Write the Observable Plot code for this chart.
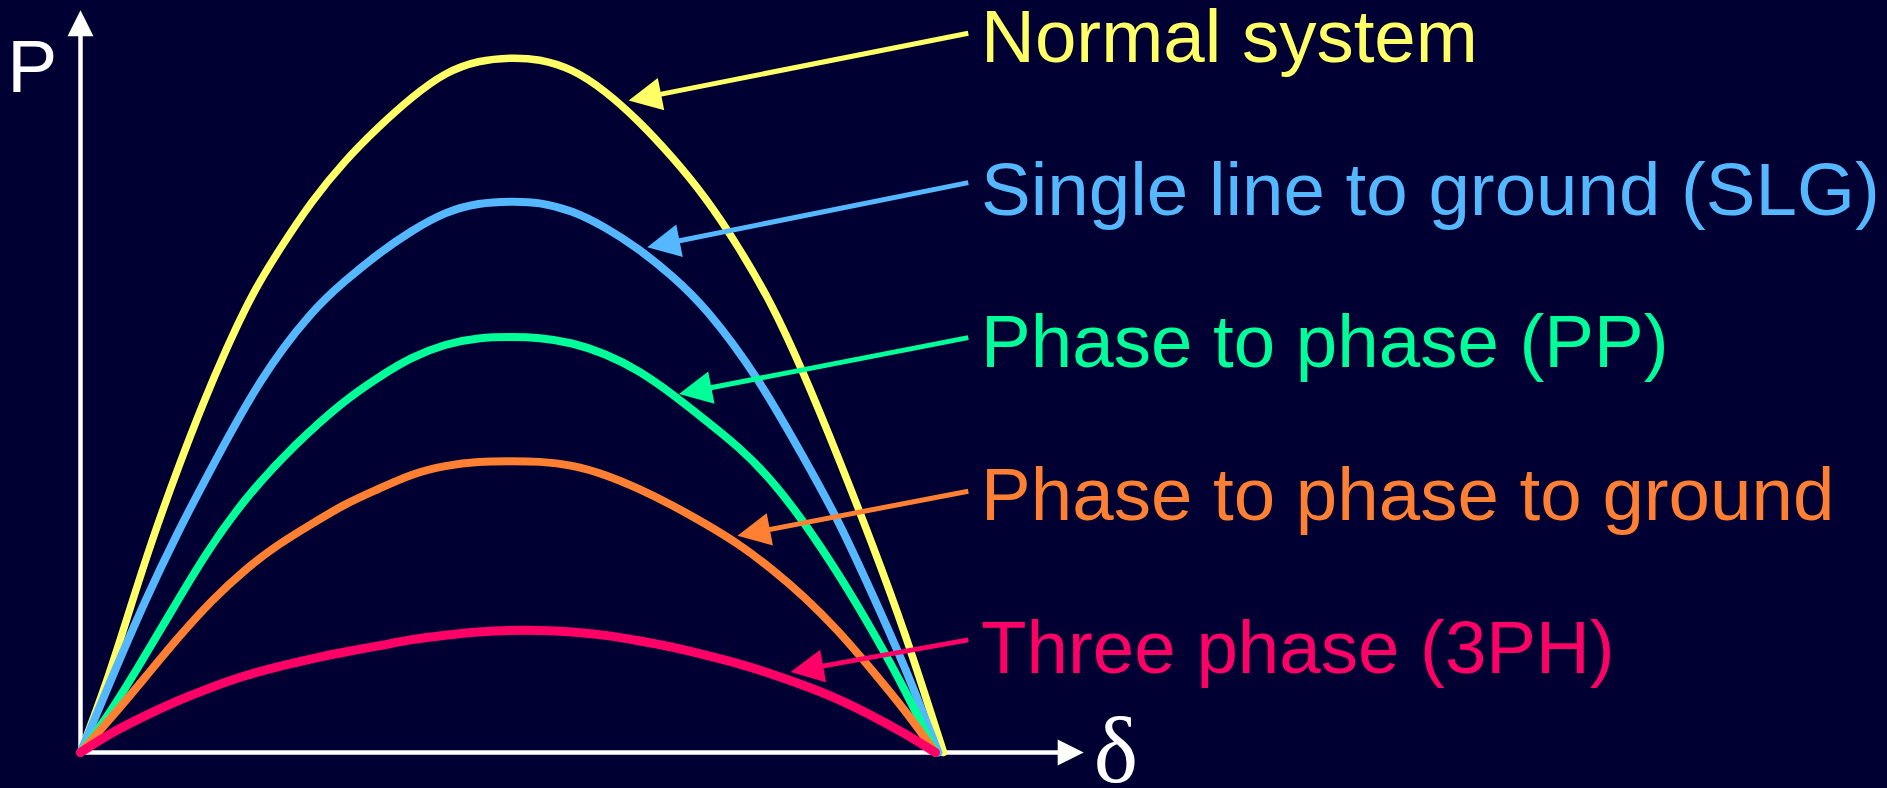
<!DOCTYPE html>
<html>
<head>
<meta charset="utf-8">
<script src="https://cdn.jsdelivr.net/npm/d3@7"></script>
<script src="https://cdn.jsdelivr.net/npm/@observablehq/plot@0.6"></script>
<style>
html, body { margin: 0; padding: 0; background: #000033; overflow: hidden; }
#chart svg { display: block; }
</style>
</head>
<body>
<div id="chart"></div>
<script>
// ---- series names (also the labels) ----
const series = [
  "Normal system",
  "Single line to ground (SLG)",
  "Phase to phase (PP)",
  "Phase to phase to ground",
  "Three phase (3PH)"
];

// ---- power-angle curves: delta (degrees) and P (per unit of normal maximum) ----
const deltaNormal = [0, 5.2, 10.1, 15.0, 20.6, 26.0, 30.5, 36.1, 41.7, 48.7, 55.7, 62.7, 69.7, 76.8, 83.8, 90.8, 96.5, 103.5, 110.5, 117.5, 124.6, 131.6, 138.6, 145.6, 152.0, 159.6, 166.7, 173.7, 181.7];
const pNormal     = [0, 0.094, 0.200, 0.305, 0.411, 0.506, 0.578, 0.660, 0.722, 0.794, 0.852, 0.900, 0.943, 0.979, 0.996, 1.000, 0.998, 0.984, 0.952, 0.909, 0.857, 0.799, 0.727, 0.645, 0.550, 0.424, 0.300, 0.171, 0];

const deltaSLG = [0, 6.6, 13.6, 20.6, 27.6, 37.9, 48.7, 55.7, 62.7, 69.7, 76.8, 83.8, 90.8, 96.5, 103.5, 110.5, 117.5, 124.6, 131.6, 142.7, 152.6, 159.6, 166.7, 173.7, 180.6];
const pSLG     = [0, 0.108, 0.219, 0.319, 0.410, 0.540, 0.636, 0.679, 0.718, 0.751, 0.778, 0.791, 0.793, 0.792, 0.780, 0.756, 0.725, 0.686, 0.641, 0.540, 0.420, 0.334, 0.228, 0.122, 0];

const deltaPP = [0, 5.2, 12.2, 19.2, 26.3, 34.7, 45.2, 55.4, 62.7, 69.7, 76.8, 83.8, 90.8, 96.5, 103.5, 110.5, 117.5, 124.6, 131.6, 138.6, 145.6, 152.6, 159.6, 166.7, 173.7, 180.0];
const pPP     = [0, 0.046, 0.123, 0.204, 0.286, 0.367, 0.444, 0.506, 0.540, 0.569, 0.588, 0.597, 0.598, 0.597, 0.590, 0.574, 0.550, 0.516, 0.478, 0.440, 0.392, 0.329, 0.257, 0.176, 0.089, 0];

const deltaPPG = [0, 6.6, 13.6, 20.6, 27.6, 34.7, 41.7, 48.7, 55.7, 62.7, 69.7, 76.8, 83.8, 90.7, 96.5, 103.5, 110.5, 117.5, 124.6, 131.6, 138.6, 145.6, 152.6, 159.6, 166.7, 173.7, 180.0];
const pPPG     = [0, 0.051, 0.108, 0.166, 0.219, 0.264, 0.300, 0.329, 0.358, 0.379, 0.401, 0.413, 0.419, 0.419, 0.419, 0.414, 0.400, 0.380, 0.356, 0.329, 0.300, 0.264, 0.223, 0.175, 0.118, 0.060, 0];

const delta3PH = [0, 6.6, 13.6, 20.6, 27.6, 34.7, 41.7, 48.7, 55.7, 62.7, 69.7, 76.8, 83.8, 90.7, 96.5, 103.5, 110.5, 117.5, 124.6, 131.6, 138.6, 145.6, 152.6, 159.6, 166.7, 173.7, 180.0];
const p3PH     = [0, 0.029, 0.053, 0.075, 0.094, 0.111, 0.124, 0.135, 0.145, 0.153, 0.163, 0.169, 0.174, 0.176, 0.176, 0.174, 0.169, 0.161, 0.152, 0.140, 0.128, 0.113, 0.096, 0.077, 0.053, 0.027, 0];

// ---- label anchors (data units) ----
const labelDelta = 189.6;
const labelP = [0.993, 0.773, 0.554, 0.334, 0.114];

// ---- pointer arrows (data units) ----
const arrowFromDelta = [186.9, 186.9, 186.9, 186.9, 186.9];
const arrowFromP     = [1.035, 0.820, 0.597, 0.376, 0.162];
const arrowToDelta   = [115.4, 119.3, 126.0, 138.3, 149.5];
const arrowToP       = [0.938, 0.727, 0.516, 0.312, 0.116];

// ---- axes extents and axis titles (data units) ----
const xAxisEnd = 211.2;
const yAxisTop = 1.068;
const axisTitles = ["P", "δ"];
const axisTitleDelta = [-15.4, 213.3];
const axisTitleP = [0.950, -0.043];

// ---- styles ----
const colors = ["#FFFF66", "#55B8FF", "#00FF99", "#FF7F33", "#FF0066"];
const curveWidths = [7.5, 8, 8, 8, 9];
const bg = "#000033";
const sans = "'Liberation Sans', Arial, Helvetica, sans-serif";
const serif = "'Liberation Serif', 'Times New Roman', serif";

const xOpts = {domain: [0, 180], range: [80, 935]};
const yOpts = {domain: [0, 1], range: [752, 57]};
const xS = Plot.scale({x: xOpts});
const yS = Plot.scale({y: yOpts});

// build tables
const curveSets = [
  [deltaNormal, pNormal], [deltaSLG, pSLG], [deltaPP, pPP], [deltaPPG, pPPG], [delta3PH, p3PH]
];
const curveTables = curveSets.map(([D, P], k) => D.map((d, i) => ({series: series[k], delta: d, p: P[i]})));
const labelRows = series.map((s, i) => ({series: s, delta: labelDelta, p: labelP[i]}));

function headAngle(d1, p1, d2, p2) {
  const dx = xS.apply(d2) - xS.apply(d1);
  const dy = yS.apply(p2) - yS.apply(p1);
  return Math.atan2(dx, -dy) * 180 / Math.PI;
}
const arrowRows = series.map((s, i) => ({
  series: s,
  d1: arrowFromDelta[i], p1: arrowFromP[i],
  d2: arrowToDelta[i], p2: arrowToP[i],
  angle: headAngle(arrowFromDelta[i], arrowFromP[i], arrowToDelta[i], arrowToP[i])
}));
const axisRows = [
  {d1: 0, p1: 0, d2: 0, p2: yAxisTop},
  {d1: 0, p1: 0, d2: xAxisEnd, p2: 0}
].map(r => ({...r, angle: headAngle(r.d1, r.p1, r.d2, r.p2)}));
const axisTitleRows = axisTitles.map((t, i) => ({t, delta: axisTitleDelta[i], p: axisTitleP[i]}));

// filled arrowhead symbol: tip at the origin, pointing up
const arrowHead = {
  draw(context, size) {
    const r = Math.sqrt(size / Math.PI);
    context.moveTo(0, 0);
    context.lineTo(r / 2, r);
    context.lineTo(-r / 2, r);
    context.closePath();
  }
};

const chart = Plot.plot({
  width: 1887,
  height: 788,
  margin: 0,
  x: {...xOpts, axis: null},
  y: {...yOpts, axis: null},
  color: {type: "ordinal", domain: series, range: colors},
  style: {background: bg, fontFamily: sans, overflow: "visible"},
  marks: [
    // axes
    Plot.arrow(axisRows, {x1: "d1", y1: "p1", x2: "d2", y2: "p2", stroke: "white", strokeWidth: 4.5, headLength: 0, insetEnd: 12, strokeLinecap: "butt"}),
    Plot.dot(axisRows, {x: "d2", y: "p2", rotate: "angle", symbol: arrowHead, r: 26, fill: "white", stroke: "none"}),
    // curves
    ...curveTables.map((rows, k) =>
      Plot.line(rows, {x: "delta", y: "p", stroke: "series", strokeWidth: curveWidths[k], curve: "basis"})
    ),
    // pointer arrows
    Plot.arrow(arrowRows, {x1: "d1", y1: "p1", x2: "d2", y2: "p2", stroke: "series", strokeWidth: 5, headLength: 0, insetEnd: 14, strokeLinecap: "butt"}),
    Plot.dot(arrowRows, {x: "d2", y: "p2", rotate: "angle", symbol: arrowHead, r: 33, fill: "series", stroke: "none"}),
    // labels
    Plot.text(labelRows, {x: "delta", y: "p", text: "series", fill: "series", textAnchor: "start", lineAnchor: "bottom", fontSize: 74.5, fontFamily: sans}),
    Plot.text(axisTitleRows.slice(0, 1), {x: "delta", y: "p", text: "t", fill: "white", textAnchor: "start", lineAnchor: "bottom", fontSize: 75, fontFamily: sans}),
    Plot.text(axisTitleRows.slice(1), {x: "delta", y: "p", text: "t", fill: "white", textAnchor: "start", lineAnchor: "bottom", fontSize: 94, fontFamily: serif})
  ]
});
document.getElementById("chart").appendChild(chart);
</script>
</body>
</html>
